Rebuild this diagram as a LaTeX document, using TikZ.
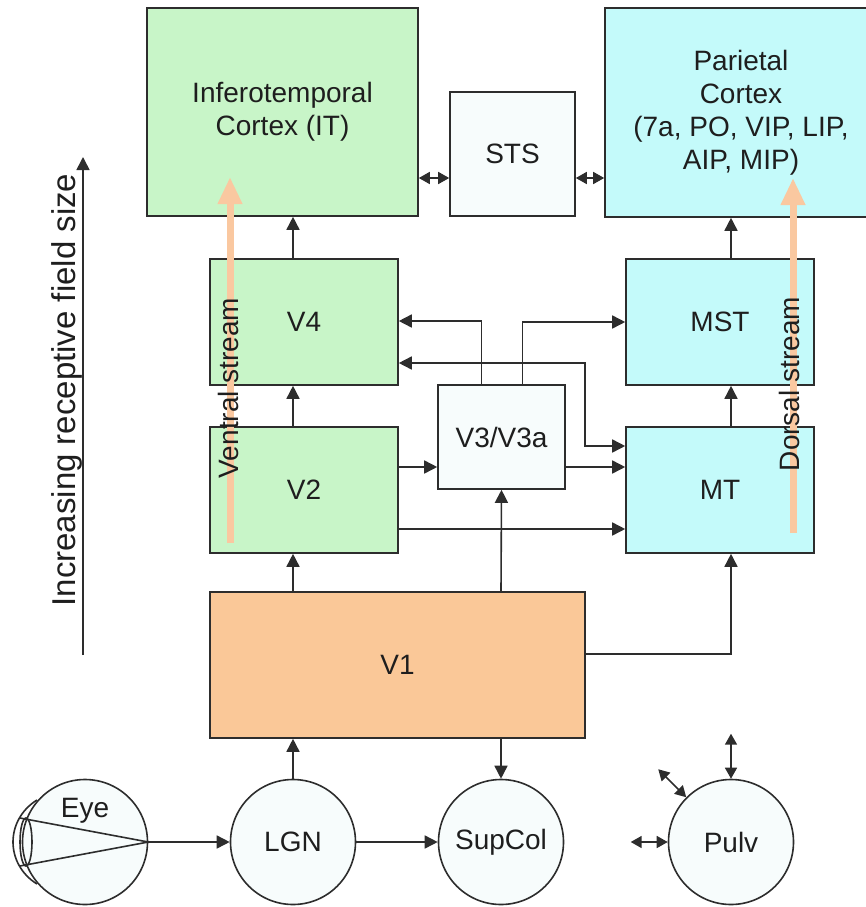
\documentclass[tikz,border=0pt]{standalone}
\usepackage{fontspec}
\setmainfont{Liberation Sans}
\usetikzlibrary{arrows.meta, positioning}

\definecolor{linegray}{RGB}{45,45,45}
\definecolor{textgray}{RGB}{30,30,30}
\definecolor{ventralgreen}{RGB}{200,245,200}
\definecolor{dorsalcyan}{RGB}{196,250,250}
\definecolor{vonepeach}{RGB}{250,200,152}
\definecolor{streampeach}{RGB}{250,200,160}
\definecolor{paper}{RGB}{247,252,252}

\begin{document}
\begin{tikzpicture}[x=1pt, y=-1pt, on grid, node distance=208pt,
  >={Triangle[length=13pt 0, width=13pt 0]},
  area/.style={draw=linegray, line width=1.6pt, inner sep=0pt, align=center,
    text=textgray, font=\fontsize{28pt}{33pt}\selectfont},
  boxsize/.style 2 args={minimum width=#1, minimum height=#2},
  ventral/.style={area, fill=ventralgreen},
  dorsal/.style={area, fill=dorsalcyan},
  relay/.style={area, fill=paper},
  nucleus/.style={area, circle, fill=paper, minimum size=125pt},
  link/.style={line width=1.6pt, color=linegray},
  twoway/.style={link, {Triangle[length=11pt 0, width=12pt 0]}-{Triangle[length=11pt 0, width=12pt 0]}},
  stream/.style={line width=7pt, color=streampeach, -{Triangle[length=27pt 0, width=23pt 0]}},
  streamlabel/.style={rotate=90, text=textgray, font=\fontsize{28pt}{33pt}\selectfont},
  ]
  \path[use as bounding box] (0,0) rectangle (866,907);
  \clip (0,0) rectangle (866,907);

  % bottom row: eye and the subcortical nuclei
  \node[nucleus] (lgn) at (293,842) {LGN};
  \node[nucleus] (eye) [left=of lgn] {};
  \node[nucleus] (supcol) [right=of lgn] {SupCol};
  \node[nucleus] (pulv) [right=230pt of supcol] {Pulv};
  \node[text=textgray, font=\fontsize{28pt}{33pt}\selectfont] (eyelbl) at ([yshift=31pt]eye.center) {Eye};

  % cortical areas
  \node[area, fill=vonepeach, boxsize={375pt}{146pt}] (v1) at (397.5,665) {V1};
  \node[ventral, boxsize={188pt}{126pt}] (v2) at (304,490) {V2};
  \node[ventral, boxsize={188pt}{126pt}] (v4) [above=168pt of v2] {V4};
  \node[dorsal, boxsize={188pt}{126pt}] (mt) [right=416pt of v2] {MT};
  \node[dorsal, boxsize={188pt}{126pt}] (mst) [above=168pt of mt] {MST};
  \node[relay, boxsize={127pt}{104pt}] (v3) at (501.5,437) {V3/V3a};
  \node[ventral, boxsize={271pt}{208pt}] (it) at (282.5,112) {Inferotemporal\\Cortex (IT)};
  \node[relay, boxsize={125pt}{124pt}] (sts) at (512.5,154) {STS};
  \node[dorsal, boxsize={272pt}{209pt}] (pc) at (741,112.5) {Parietal\\Cortex\\(7a, PO, VIP, LIP,\\AIP, MIP)};

  % lens of the eye
  \begin{scope}[shift={(eye.center)}, link]
    \draw (-48,-42) .. controls (-80,-22) and (-80,22) .. (-48,42);
    \draw (-59,0) ellipse [x radius=6pt, y radius=24pt];
    \draw (-65,-24) -- (eye.east) -- (-65,24);
  \end{scope}

  \path[link, ->]
  (eye) edge (lgn)
  (lgn) edge (supcol)
  (lgn) edge (v1.south -| lgn)
  (v1.south -| supcol) edge (supcol)
  (v1.north -| lgn) edge (v2.south -| lgn)
  (v1.north -| supcol) edge (v3.south)
  (v2.north -| lgn) edge (v4.south -| lgn)
  (v4.north -| lgn) edge (it.south -| lgn)
  (mt.north -| pulv) edge (mst.south -| pulv)
  (mst.north -| pulv) edge (pc.south -| pulv)
  ([yshift=23pt]v2.east) edge ([yshift=23pt]v2.east -| v3.west)
  ([yshift=-30pt]v3.east) edge ([yshift=-30pt]v3.east -| mt.west)
  ([yshift=-39pt]v2.east) edge ([yshift=-39pt]v2.east -| mt.west)
  ;
  \draw[link, ->] ([yshift=11pt]v1.east) -| (mt.south -| pulv);
  \draw[link, ->] ([xshift=-20pt]v3.north) |- ([yshift=1pt]v4.east);
  \draw[link, ->] ([xshift=21pt]v3.north) |- (mst.west);
  \draw[link, <->] ([yshift=-41pt]v4.east) -- ++(186,0) |- ([yshift=44pt]mt.west);

  % reciprocal links of STS and pulvinar
  \coordinate (pw) at ([xshift=-37pt]pulv.west);
  \coordinate (pnw) at ([shift={(-28pt,28pt)}]pulv.north west);
  \coordinate (pn) at ([yshift=45pt]pulv.north);
  \path[twoway]
  ([yshift=-24pt]sts.west) edge ([yshift=-24pt]sts.west -| it.east)
  ([yshift=-24pt]sts.east) edge ([yshift=-24pt]sts.east -| pc.west)
  (pw) edge (pulv.west)
  (pnw) edge (pulv.north west)
  (pn) edge (pulv.north)
  ;

  % the two streams
  \coordinate (vbase) at (230,543);
  \coordinate (vtip) at (230,177);
  \coordinate (dbase) at (793,533);
  \coordinate (dtip) at (793,178);
  \draw[stream] (vbase) -- (vtip);
  \draw[stream] (dbase) -- (dtip);
  \node[streamlabel] (vlbl) at (228,388) {Ventral stream};
  \node[streamlabel] (dlbl) at (789,384) {Dorsal stream};

  % receptive field axis
  \coordinate (axbot) at (83,655);
  \coordinate (axtop) at (83,157);
  \draw[link, ->] (axbot) -- (axtop);
  \node[rotate=90, text=textgray, font=\fontsize{33pt}{38pt}\selectfont] (axlbl) at (67,390) {Increasing receptive field size};
\end{tikzpicture}
\end{document}
